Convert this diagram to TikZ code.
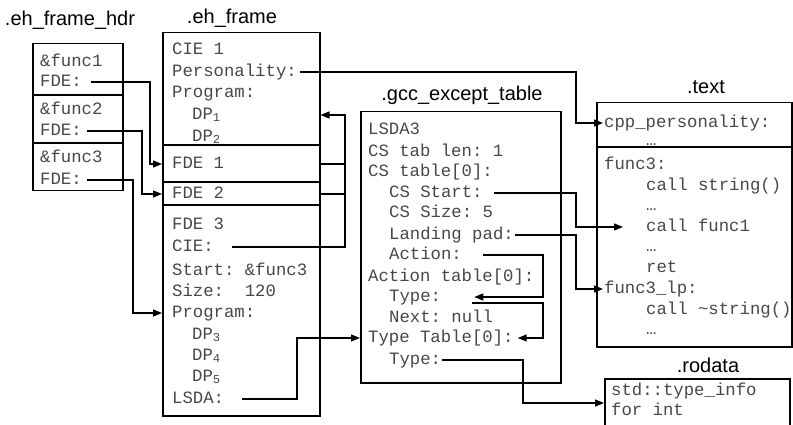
\documentclass[tikz,border=0pt]{standalone}
\usepackage{fontspec}
\setmainfont{Liberation Sans}
\setmonofont{Liberation Mono}
\usetikzlibrary{arrows.meta}

\begin{document}
\begin{tikzpicture}[x=1pt, y=-1pt,
		box/.style={draw, line width=1.5pt, inner sep=0pt, anchor=north west},
		sect/.style={line width=1.5pt},
		code/.style={anchor=west, inner sep=1pt, text height=12pt, text depth=3.5pt, text=black!72, font=\fontsize{17.3}{20}\ttfamily},
		title/.style={font=\fontsize{20}{24}\selectfont},
		link/.style={line width=1.3pt},
		ptr/.style={link, -{Triangle[length=9pt, width=7pt]}}]
		%%%%% START %%%%%
		\useasboundingbox (0, 0) rectangle (793, 425);
		\clip (0, 0) rectangle (793, 425);
		
		% lanes for the connectors
		\coordinate (laneA) at (150, 0);
		\coordinate (laneB) at (142, 0);
		\coordinate (laneC) at (133, 0);
		\coordinate (cielane) at (345, 0);
		\coordinate (lsdalane) at (297, 0);
		\coordinate (textlane) at (576, 0);
		\coordinate (actlane) at (543, 0);
		\coordinate (rolane) at (523, 0);
		\coordinate (roin) at (604, 403);
		
		% .eh_frame_hdr
		\node[title] (hdrlbl) at (70, 20) {.eh\_frame\_hdr};
		\node[box, minimum width=90pt, minimum height=147pt] (hdr) at (32, 43) {};
		\draw[sect] (32, 95) -- (122, 95);
		\draw[sect] (32, 143) -- (122, 143);
		\node[code] (hfone) at (39, 62) {\&func1};
		\node[code] (hfdeone) at (39, 82) {FDE:};
		\node[code] (hftwo) at (39, 110) {\&func2};
		\node[code] (hfdetwo) at (39, 131) {FDE:};
		\node[code] (hfthree) at (39, 158) {\&func3};
		\node[code] (hfdethree) at (39, 180) {FDE:};
		
		% .eh_frame
		\node[title] (ehlbl) at (232, 18) {.eh\_frame};
		\node[box, minimum width=157pt, minimum height=383pt] (eh) at (162, 32) {};
		\draw[sect] (162, 145) -- (319, 145);
		\draw[sect] (162, 182) -- (319, 182);
		\draw[sect] (162, 205) -- (319, 205);
		\node[code] (cieone) at (171, 50) {CIE 1};
		\node[code] (pers) at (171, 72) {Personality:};
		\node[code] (progone) at (171, 93) {Program:};
		\node[code] (dpone) at (191, 115) {DP\textsubscript{1}};
		\node[code] (dptwo) at (191, 137) {DP\textsubscript{2}};
		\node[code] (fdeone) at (171, 164) {FDE 1};
		\node[code] (fdetwo) at (171, 194) {FDE 2};
		\node[code] (fdethree) at (171, 225) {FDE 3};
		\node[code] (ciep) at (171, 247) {CIE:};
		\node[code] (start) at (171, 271) {Start: \&func3};
		\node[code] (size) at (171, 292) {Size:\ \ 120};
		\node[code] (progtwo) at (171, 313) {Program:};
		\node[code] (dpthree) at (191, 335) {DP\textsubscript{3}};
		\node[code] (dpfour) at (191, 356) {DP\textsubscript{4}};
		\node[code] (dpfive) at (191, 377) {DP\textsubscript{5}};
		\node[code] (lsda) at (171, 399) {LSDA:};
		
		% .gcc_except_table
		\node[title] (gcclbl) at (462, 95) {.gcc\_except\_table};
		\node[box, minimum width=200pt, minimum height=271pt] (gcc) at (360, 111) {};
		\node[code] (lsdathree) at (367, 130) {LSDA3};
		\node[code] (cslen) at (367, 152) {CS tab len: 1};
		\node[code] (cstab) at (367, 172) {CS table[0]:};
		\node[code] (csstart) at (388, 193) {CS Start:};
		\node[code] (cssize) at (388, 213) {CS Size: 5};
		\node[code] (lpad) at (388, 235) {Landing pad:};
		\node[code] (action) at (388, 255) {Action:};
		\node[code] (acttab) at (367, 277) {Action table[0]:};
		\node[code] (typeone) at (388, 297) {Type:};
		\node[code] (next) at (388, 318) {Next: null};
		\node[code] (typetab) at (367, 338) {Type Table[0]:};
		\node[code] (typetwo) at (388, 360) {Type:};
		
		% .text
		\node[title] (textlbl) at (706, 87) {.text};
		\node[box, minimum width=195pt, minimum height=244pt] (textsec) at (596, 102) {};
		\draw[sect] (596, 147) -- (791, 147);
		\node[code] (cpp) at (603, 123) {cpp\_personality:};
		\node[code] (dotsone) at (645, 141) {…};
		\node[code] (fthree) at (603, 165) {func3:};
		\node[code] (callstr) at (645, 186) {call string()};
		\node[code] (dotstwo) at (645, 206) {…};
		\node[code] (callfone) at (645, 227) {call func1};
		\node[code] (dotsthree) at (645, 247) {…};
		\node[code] (ret) at (645, 268) {ret};
		\node[code] (fthreelp) at (603, 289) {func3\_lp:};
		\node[code] (calldstr) at (645, 310) {call \textasciitilde string()};
		\node[code] (dotsfour) at (645, 330) {…};
		
		% .rodata
		\node[title] (rolbl) at (708, 365) {.rodata};
		\node[box, minimum width=185pt, minimum height=60pt] (rodata) at (604, 378) {};
		\node[code] (roone) at (610, 391) {std::type\_info};
		\node[code] (rotwo) at (610, 411) {for int};
		
		% hdr -> FDEs
		\draw[ptr, shorten <=8pt] (hfdeone.east) -| (laneA |- fdeone) -- (eh.west |- fdeone);
		\draw[ptr, shorten <=4pt] (hfdetwo.east) -| (laneB |- fdetwo) -- (eh.west |- fdetwo);
		\draw[ptr, shorten <=4pt] (hfdethree.east) -| (laneC |- progtwo) -- (eh.west |- progtwo);
		
		% FDEs -> CIE 1
		\draw[link] (eh.east |- fdeone) -- (cielane |- fdeone);
		\draw[link] (eh.east |- fdetwo) -- (cielane |- fdetwo);
		\draw[ptr, shorten <=17pt] (ciep.east) -| (cielane |- dpone) -- (eh.east |- dpone);
		
		% personality, call site, landing pad
		\draw[ptr, shorten <=2pt] (pers.east) -| (textlane |- cpp) -- (cpp.west);
		\draw[ptr, shorten <=10pt, shorten >=22pt] (csstart.east) -| (textlane |- callfone) -- (callfone.west);
		\draw[ptr] (lpad.east) -| (textlane |- fthreelp) -- (fthreelp.west);
		
		% LSDA -> .gcc_except_table
		\draw[ptr, shorten <=17pt] (lsda.east) -| (lsdalane |- typetab) -- (gcc.west |- typetab);
		
		% inside the LSDA
		\draw[ptr, shorten <=20pt, shorten >=32pt] (action.east) -| (actlane |- typeone) -- (typeone.east);
		\draw[ptr, shorten >=3pt] ([xshift=30pt, yshift=-6pt]typeone.east) -| (actlane |- typetab) -- (typetab.east);
		\draw[ptr] (typetwo.east) -| (rolane |- roin) -- (roin);
		
		%%%%% END %%%%%
	\end{tikzpicture}
\end{document}
